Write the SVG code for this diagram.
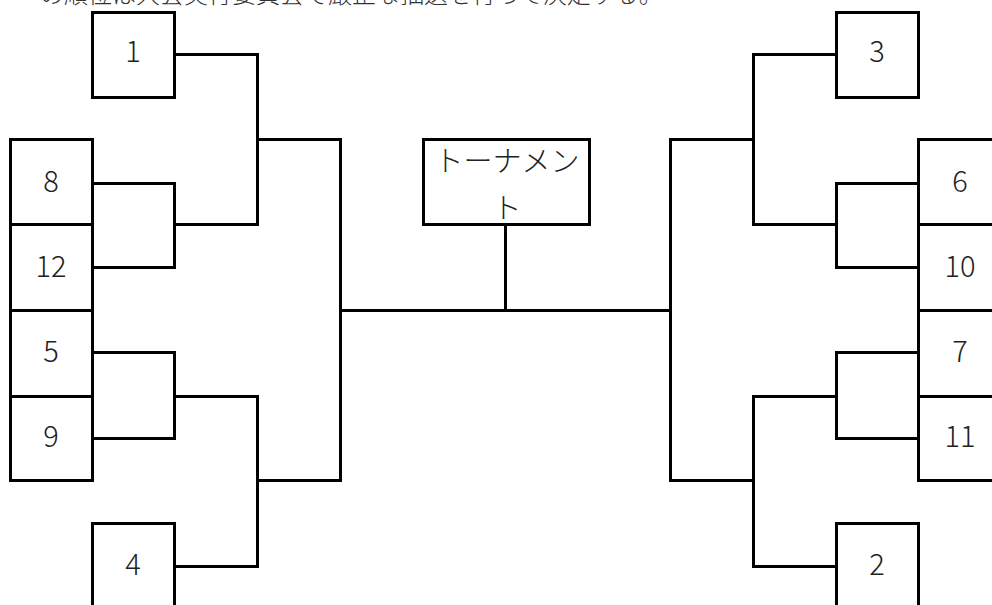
<svg xmlns="http://www.w3.org/2000/svg" width="992" height="605" viewBox="0 0 992 605">
<style>
.box{fill:#fff;stroke:#000;stroke-width:3}
.ln{fill:none;stroke:#000;stroke-width:3;stroke-linejoin:miter;stroke-linecap:square}
.t{font-family:"Noto Sans CJK JP","Noto Sans",sans-serif;font-size:29px;font-weight:300;fill:#222;text-anchor:middle}
.top{font-family:"Noto Sans CJK JP",sans-serif;font-size:24px;font-weight:300;fill:#333}
</style>
<rect width="992" height="605" fill="#fff"/>
<text class="top" x="40" y="3">の順位は大会実行委員会で厳正な抽選を行って決定する。</text>
<g id="connectors">
<polyline class="ln" points="174.5,54.5 257.5,54.5 257.5,224.5 174.5,224.5"/>
<polyline class="ln" points="92.5,183.5 174.5,183.5 174.5,267.5 92.5,267.5"/>
<polyline class="ln" points="257.5,139.5 340.5,139.5 340.5,480.5 257.5,480.5"/>
<polyline class="ln" points="92.5,352.5 174.5,352.5 174.5,438.5 92.5,438.5"/>
<polyline class="ln" points="174.5,396.5 257.5,396.5 257.5,566.5 174.5,566.5"/>
<line class="ln" x1="340.5" y1="310.5" x2="670.5" y2="310.5"/>
<line class="ln" x1="505.5" y1="224.5" x2="505.5" y2="310.5"/>
<polyline class="ln" points="836.5,54.5 753.5,54.5 753.5,224.5 836.5,224.5"/>
<polyline class="ln" points="918.5,183.5 836.5,183.5 836.5,267.5 918.5,267.5"/>
<polyline class="ln" points="753.5,139.5 670.5,139.5 670.5,480.5 753.5,480.5"/>
<polyline class="ln" points="918.5,352.5 836.5,352.5 836.5,438.5 918.5,438.5"/>
<polyline class="ln" points="836.5,396.5 753.5,396.5 753.5,566.5 836.5,566.5"/>
</g>
<g id="n1"><rect class="box" x="92.5" y="12.5" width="82" height="85"/><text class="t" x="133" y="62">1</text></g>
<g id="n8"><rect class="box" x="10.5" y="139.5" width="82" height="85"/><text class="t" x="51" y="192">8</text></g>
<g id="n12"><rect class="box" x="10.5" y="224.5" width="82" height="86"/><text class="t" x="51" y="277">12</text></g>
<g id="n5"><rect class="box" x="10.5" y="310.5" width="82" height="86"/><text class="t" x="51" y="362">5</text></g>
<g id="n9"><rect class="box" x="10.5" y="396.5" width="82" height="84"/><text class="t" x="51" y="447">9</text></g>
<g id="n4"><rect class="box" x="92.5" y="523.5" width="82" height="100"/><text class="t" x="133" y="575">4</text></g>
<g id="final"><rect class="box" x="423.5" y="139.5" width="166" height="85"/><text class="t" x="507" y="172">トーナメン</text><text class="t" x="507" y="219">ト</text></g>
<g id="n3"><rect class="box" x="836.5" y="12.5" width="82" height="85"/><text class="t" x="877" y="62">3</text></g>
<g id="n6"><rect class="box" x="918.5" y="139.5" width="84" height="85"/><text class="t" x="960" y="192">6</text></g>
<g id="n10"><rect class="box" x="918.5" y="224.5" width="84" height="86"/><text class="t" x="960" y="277">10</text></g>
<g id="n7"><rect class="box" x="918.5" y="310.5" width="84" height="86"/><text class="t" x="960" y="362">7</text></g>
<g id="n11"><rect class="box" x="918.5" y="396.5" width="84" height="84"/><text class="t" x="960" y="447">11</text></g>
<g id="n2"><rect class="box" x="836.5" y="523.5" width="82" height="100"/><text class="t" x="877" y="575">2</text></g>
</svg>
